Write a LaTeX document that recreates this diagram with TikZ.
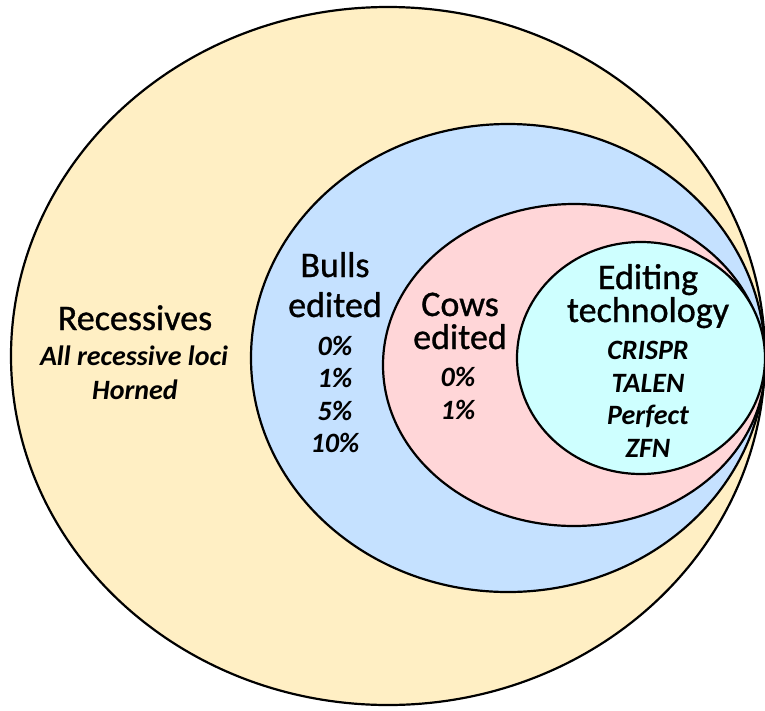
\documentclass[tikz,border=0pt]{standalone}
\usepackage{fontspec}
\setmainfont{Carlito}
\newfontfamily\labelfont{Carlito}[FakeBold=0.9]

\definecolor{recfill}{RGB}{255,239,196}
\definecolor{bullfill}{RGB}{197,225,255}
\definecolor{cowfill}{RGB}{255,214,216}
\definecolor{techfill}{RGB}{206,255,255}

\begin{document}
\begin{tikzpicture}[x=1pt,y=-1pt,line width=2.2pt,
  head/.style={anchor=base,inner sep=0pt,font=\labelfont\fontsize{36}{36}\selectfont},
  item/.style={anchor=base,inner sep=0pt,font=\fontsize{28}{28}\selectfont\bfseries\itshape}]
  \useasboundingbox (0,0) rectangle (765,710);
  % nested sets, all touching on the right
  \filldraw[fill=recfill] (388,356) ellipse (377 and 349);
  \filldraw[fill=bullfill] (508,358) ellipse (257 and 234);
  \filldraw[fill=cowfill] (574,365) ellipse (191 and 161);
  \filldraw[fill=techfill] (641,358) ellipse (124 and 116);
  % recessives
  \node[head] (rec) at (135,330) {Recessives};
  \node[item] (recall) at (134,365) {All recessive loci};
  \node[item] (rechorn) at (135,399) {Horned};
  % bulls
  \node[head] (bulls) at (335,277) {Bulls};
  \node[head] (bullsed) at (335,317) {edited};
  \node[item] (b0) at (335,355) {0\%};
  \node[item] (b1) at (335,387) {1\%};
  \node[item] (b5) at (335,420) {5\%};
  \node[item] (b10) at (335,452) {10\%};
  % cows
  \node[head] (cows) at (460,316) {Cows};
  \node[head] (cowsed) at (460,349) {edited};
  \node[item] (c0) at (458,386) {0\%};
  \node[item] (c1) at (458,419) {1\%};
  % editing technology
  \node[head] (edit) at (648,289) {Editing};
  \node[head] (tech) at (648,322) {technology};
  \node[item] (crispr) at (648,359) {CRISPR};
  \node[item] (talen) at (648,392) {TALEN};
  \node[item] (perf) at (648,424) {Perfect};
  \node[item] (zfn) at (648,457) {ZFN};
\end{tikzpicture}
\end{document}
